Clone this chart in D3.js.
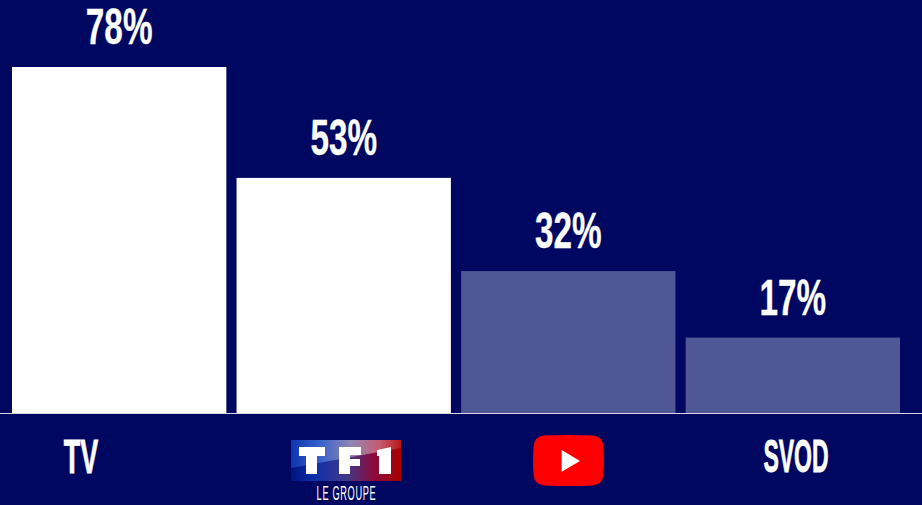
<!DOCTYPE html>
<html>
<head>
<meta charset="utf-8">
<script src="https://cdn.jsdelivr.net/npm/d3@7/dist/d3.min.js"></script>
<style>
  html, body { margin: 0; padding: 0; background: #000760; }
  svg { display: block; }
  text { font-family: "Liberation Sans Narrow", "Liberation Sans", sans-serif; font-weight: 700; fill: #fff; }
</style>
</head>
<body>
<svg id="chart" width="922" height="505"></svg>
<script>
const categories = ["TV", "TF1", "YouTube", "SVOD"];
const shares = [78, 53, 32, 17];
const barColors = ["#ffffff", "#ffffff", "#4f5794", "#4f5794"];

const width = 922, height = 505, baseline = 413;
const svg = d3.select("#chart");

svg.append("rect").attr("width", width).attr("height", height).attr("fill", "#000760");

const x = d3.scaleBand().domain(categories).range([12, 900]).paddingInner(0.0455);
const y = d3.scaleLinear().domain([0, 78]).range([baseline, 67]);

// Gradients for the broadcaster logo
const defs = svg.append("defs");
const grad = defs.append("linearGradient").attr("id", "tf1Grad");
[[0, "#00137f"], [0.2, "#0a2ea8"], [0.5, "#3f3a8a"], [0.75, "#8c0a3c"], [1, "#a80000"]].forEach(([o, c]) =>
  grad.append("stop").attr("offset", o).attr("stop-color", c));
const sheen = defs.append("linearGradient").attr("id", "tf1Sheen");
[[0, "#0f34b0"], [0.25, "#3560cc"], [0.55, "#8f86b4"], [0.8, "#c85c70"], [1, "#b81818"]].forEach(([o, c]) =>
  sheen.append("stop").attr("offset", o).attr("stop-color", c));

// Bars
svg.append("g").selectAll("rect").data(categories).join("rect")
  .attr("x", d => x(d))
  .attr("y", (d, i) => y(shares[i]))
  .attr("width", x.bandwidth())
  .attr("height", (d, i) => baseline - y(shares[i]))
  .attr("fill", (d, i) => barColors[i]);

// Baseline
svg.append("line").attr("x1", 0).attr("x2", width).attr("y1", baseline + 0.5).attr("y2", baseline + 0.5)
  .attr("stroke", "#d5d7e6").attr("stroke-width", 1);

// Narrow display text, squeezed horizontally around its centre
function label(cx, yBase, size, sx, str, weight) {
  return svg.append("text")
    .attr("transform", `translate(${cx},${yBase}) scale(${sx},1)`)
    .attr("text-anchor", "middle")
    .attr("font-size", size)
    .attr("stroke", "#fff")
    .attr("stroke-width", weight)
    .text(str);
}

// Value labels
shares.forEach((v, i) => {
  const cx = x(categories[i]) + x.bandwidth() / 2;
  label(cx, y(v) - 23, 49, 0.68, v + "%", 0.3);
});

// Category labels
label(81, 473, 49, 0.55, "TV", 0.8);
label(796, 472, 47, 0.49, "SVOD", 0.8);

// TF1 logo
const logo = svg.append("g").attr("transform", "translate(291,440)");
logo.append("rect").attr("width", 110).attr("height", 41).attr("fill", "url(#tf1Grad)");
logo.append("path").attr("d", "M0,0H110V8L0,28Z").attr("fill", "url(#tf1Sheen)");
logo.append("path").attr("d", "M8,7H34V16H26V34H15V16H8Z").attr("fill", "#fff");
logo.append("path").attr("d", "M48,7H70V15H59V19H69V26H59V34H48Z").attr("fill", "#fff");
logo.append("path").attr("d", "M86,10L100,7V34H88V16H86Z").attr("fill", "#fff");
svg.append("text")
  .attr("transform", "translate(346.5,500) scale(0.46,1)")
  .attr("text-anchor", "middle").attr("font-size", 20)
  .style("font-weight", 400).style("letter-spacing", "1.5px").text("LE GROUPE");

// YouTube logo
const yt = svg.append("g").attr("transform", "translate(533,435)");
yt.append("path")
  .attr("d", "M11,0.5Q35.5,-0.5 60,0.5Q70,1.5 70.5,12Q71.5,25.5 70.5,39Q70,49.5 60,50.5Q35.5,51.5 11,50.5Q1,49.5 0.5,39Q-0.5,25.5 0.5,12Q1,1.5 11,0.5Z")
  .attr("fill", "#ff0000");
yt.append("path").attr("d", "M28.7,15L47,26L28.7,36.7Z").attr("fill", "#fff");
</script>
</body>
</html>
